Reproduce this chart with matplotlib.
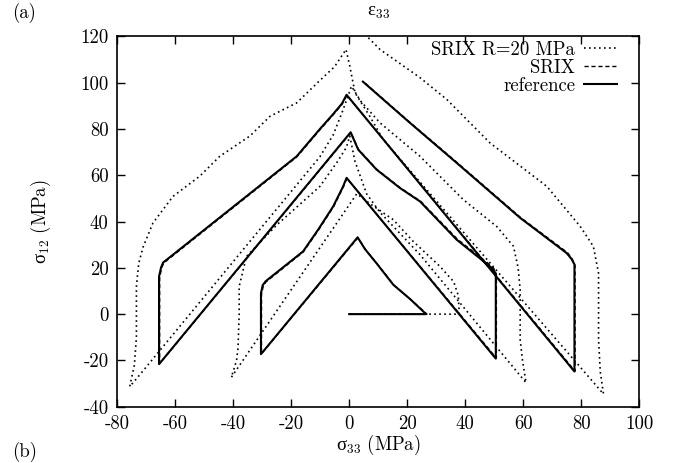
import matplotlib
matplotlib.use("Agg")
import matplotlib.pyplot as plt
from matplotlib.ticker import FixedLocator

plt.rcParams["font.family"] = ["cmr10"]
plt.rcParams["mathtext.fontset"] = "cm"
plt.rcParams["axes.unicode_minus"] = False
plt.rcParams["axes.formatter.use_mathtext"] = False

# reference: sigma33 / sigma12 path (MPa)
ref_s33 = [0, 26.5, 21, 15.2, 9.4, 5.5, 2.9,
           -30.4, -30.4, -29.8, -28.8, -15.9, -10.7, -5.5, -2.1, -0.9,
           50.5, 50.5, 49.5, 48.5, 37, 24.4, 17.5, 9.4, 3.1, 0.5,
           -65.5, -65.5, -64.8, -64.1, -18.1, -10.1, -5.5, -2.5, -0.9,
           77.6, 77.6, 76.5, 74.9, 58.9, 37, 20.9, 11.7, 4.7]
ref_s12 = [0, 0, 6.5, 12.7, 22, 28, 33.2,
           -17.3, 9, 12.5, 14.2, 27.1, 36.5, 46.6, 55.2, 58.9,
           -19.2, 17.5, 19.5, 20.6, 32.2, 48.7, 54.5, 62.5, 71.1, 78.6,
           -21.6, 16.3, 20.2, 22.3, 68.2, 80, 86.5, 91, 94.8,
           -24.8, 21.5, 24, 26.4, 41.6, 65.4, 82.7, 92.8, 100.5]

# SRIX
srix_s33 = [0, 26.8, 21.2, 15.4, 9.6, 5.6, 3.0,
            -30.2, -30.2, -29.6, -28.6, -15.8, -10.6, -5.4, -2.0, -0.8,
            50.7, 50.7, 49.9, 48.9, 37.3, 24.6, 17.6, 9.5, 3.2, 0.6,
            -65.3, -65.3, -64.6, -63.9, -18.0, -10.0, -5.4, -2.4, -0.8,
            77.8, 77.8, 76.8, 75.2, 59.1, 37.2, 21.0, 11.8, 4.8]
srix_s12 = [0, 0, 6.3, 12.5, 21.8, 27.9, 33.0,
            -17.1, 8.5, 12.2, 14.0, 26.9, 36.3, 46.4, 55.0, 58.7,
            -19.0, 17.0, 19.6, 20.9, 32.4, 48.8, 54.6, 62.6, 71.2, 78.5,
            -21.4, 15.8, 20.0, 22.1, 68.0, 79.8, 86.3, 90.8, 94.6,
            -24.6, 21.0, 23.9, 26.6, 41.7, 65.5, 82.8, 92.9, 100.6]

# SRIX R=20 MPa
r20_s33 = [0, 37.9, 37.6, 36, 31.3, 22, 15.2, 8, 2.6,
           -40.6, -38.8, -38.3, -37.9, -37.9, -35.4, -25, -10.1, -4, -1, 0.2,
           2, 6, 10.6, 24.4, 60.9,
           59.7, 58.9, 58.9, 58.2, 56.6, 50.8, 39.3, 24.4, 10.6, 4, 0.8,
           -2.5, -5.5, -10.1, -33.7, -72.2, -75.6,
           -74, -73.3, -73.3, -72.5, -71, -67.6, -60.7, -51.5, -44.6, -34.2,
           -27.3, -18.1, -10.1, -5, -1.1,
           0.2, 2, 7.1, 11.7, 87.6,
           86.5, 85.9, 85.9, 84.1, 79.6, 68.1, 48.5, 33.6, 24.4, 10.6, 6, 4.5]
r20_s12 = [0, 0, 8, 14, 20.6, 31.5, 40.8, 47, 52,
           -27.3, -20, -14.7, 0, 12, 24.9, 38.5, 55.2, 66, 72, 77,
           66, 52, 44, 25.7, -29.6,
           -20, -11, 10.5, 20, 29.3, 37.9, 49.5, 68.2, 82.7, 92, 98.5,
           87, 77.5, 68, 32.2, -26.3, -31.3,
           -22, -10, 12, 22, 29, 39.4, 50.9, 59.6, 68.2, 77,
           85.5, 91.3, 101, 107, 114.4,
           107.2, 95.7, 85.5, 75.5, -34.5,
           -25, -11.1, 17.7, 29.3, 37.9, 55.2, 74, 92.8, 102.2, 114.4, 120.2, 123]

x_ticks = [-80, -60, -40, -20, 0, 20, 40, 60, 80, 100]
y_ticks = [-40, -20, 0, 20, 40, 60, 80, 100, 120]

fs = 13.5
greek = "Liberation Serif"

fig = plt.figure(figsize=(6.73, 4.63), dpi=100)
ax = fig.add_axes([0.1738, 0.1216, 0.7764, 0.7996])

ax.plot(r20_s33, r20_s12, color="black", lw=1.2, linestyle=(0, (1, 2)),
        label="SRIX R=20 MPa")
ax.plot(srix_s33, srix_s12, color="black", lw=1.0, linestyle=(0, (3, 2)),
        label="SRIX")
ax.plot(ref_s33, ref_s12, color="black", lw=1.5, label="reference")

ax.set_xlim(-80, 100)
ax.set_ylim(-40, 120)
ax.xaxis.set_major_locator(FixedLocator(x_ticks))
ax.yaxis.set_major_locator(FixedLocator(y_ticks))
ax.tick_params(direction="in", length=5.5, width=1, top=True, right=True,
               labelsize=fs, pad=6)
for sp in ax.spines.values():
    sp.set_linewidth(1.2)

ax.set_xlabel(r"σ$_{33}\ \mathrm{(MPa)}$", fontsize=fs, family=greek,
              labelpad=0)
ax.set_ylabel(r"σ$_{12}\ \mathrm{(MPa)}$", fontsize=fs, family=greek,
              labelpad=20)
ax.set_title("ε$_{33}$", fontsize=fs, family=greek, pad=15)

ax.legend(loc="upper right", bbox_to_anchor=(0.972, 1.008), frameon=False,
          markerfirst=False, fontsize=fs, handlelength=1.8,
          handletextpad=0.45, labelspacing=0.0, borderaxespad=0)

fig.text(0.018, 0.972, "(a)", fontsize=fs, va="center")
fig.text(0.018, 0.024, "(b)", fontsize=fs, va="center")

fig.savefig("out.png", dpi=100)
